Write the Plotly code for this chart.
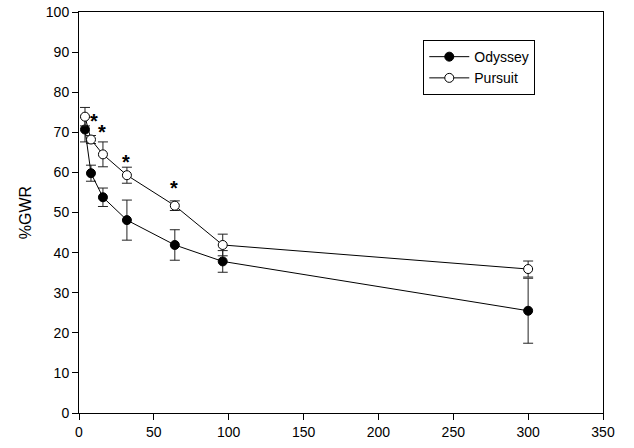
import plotly.graph_objects as go

# Time points (x) and %GWR means with standard errors
x_vals = [4, 8, 16, 32, 64, 96, 300]
odyssey = [70.7, 59.8, 53.8, 48.1, 41.9, 37.8, 25.5]
odyssey_err = [3.1, 2.0, 2.3, 5.0, 3.8, 2.7, 8.1]
pursuit = [73.9, 68.2, 64.5, 59.3, 51.7, 41.9, 35.9]
pursuit_err = [2.3, 1.0, 3.1, 2.0, 1.2, 2.7, 2.0]

# Significance markers (position of each asterisk)
star_x = [10, 15.6, 31.2, 63.4]
star_y = [73.4, 70.5, 63.1, 56.6]

FONT = "Liberation Sans, Arial, sans-serif"

fig = go.Figure()

fig.add_trace(go.Scatter(
    x=x_vals, y=odyssey, name="Odyssey", mode="lines+markers",
    line=dict(color="black", width=1),
    marker=dict(symbol="circle", size=9, color="black",
                line=dict(color="black", width=1)),
    error_y=dict(type="data", array=odyssey_err, visible=True,
                 color="#222222", thickness=1, width=5),
))

fig.add_trace(go.Scatter(
    x=x_vals, y=pursuit, name="Pursuit", mode="lines+markers",
    line=dict(color="black", width=1),
    marker=dict(symbol="circle", size=9, color="white",
                line=dict(color="black", width=1)),
    error_y=dict(type="data", array=pursuit_err, visible=True,
                 color="#222222", thickness=1, width=5),
))

for sx, sy in zip(star_x, star_y):
    fig.add_annotation(x=sx, y=sy, text="<b>*</b>", showarrow=False,
                       font=dict(family=FONT, size=20, color="#000000"),
                       xanchor="center", yanchor="middle", yshift=-2)

fig.update_layout(
    template="none",
    width=634, height=448,
    margin=dict(l=79, r=31, t=12, b=35),
    paper_bgcolor="white", plot_bgcolor="white",
    font=dict(family=FONT, size=14, color="black"),
    showlegend=True,
    legend=dict(
        x=0.657, y=0.93, xanchor="left", yanchor="top",
        bordercolor="black", borderwidth=1, bgcolor="white",
        font=dict(family=FONT, size=14, color="black"),
        itemwidth=40, tracegroupgap=0,
    ),
    xaxis=dict(
        range=[0, 350], tickvals=[0, 50, 100, 150, 200, 250, 300, 350],
        showgrid=False, zeroline=False,
        showline=True, linecolor="black", linewidth=1, mirror=True,
        ticks="outside", ticklen=6, tickcolor="black", tickwidth=1,
        tickfont=dict(family=FONT, size=14, color="black"),
    ),
    yaxis=dict(
        range=[0, 100], tickvals=list(range(0, 101, 10)),
        showgrid=False, zeroline=False,
        showline=True, linecolor="black", linewidth=1, mirror=True,
        ticks="outside", ticklen=6, tickcolor="black", tickwidth=1,
        tickfont=dict(family=FONT, size=14, color="black"),
        title=dict(text="%GWR", font=dict(family=FONT, size=16, color="black"),
                   standoff=10),
    ),
)

fig.write_html("out.html")
